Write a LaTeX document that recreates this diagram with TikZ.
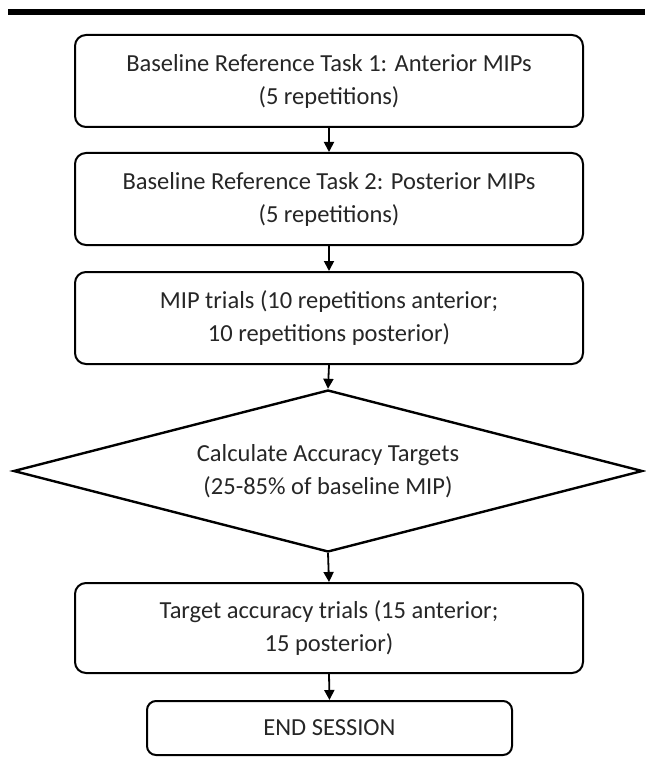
\documentclass[tikz,border=0pt]{standalone}
\usepackage{fontspec}
\setmainfont{Carlito}
\usetikzlibrary{shapes.geometric,arrows.meta}
\begin{document}
\begin{tikzpicture}[x=1pt,y=-1pt,
  every node/.style={font=\fontsize{24.5}{33}\selectfont, text=black!85, align=center},
  stepbox/.style={draw=black, line width=2pt, rounded corners=11pt, minimum width=508pt, inner sep=0pt},
  decision/.style={draw=black, line width=2.4pt, diamond, aspect=3.9, minimum width=629pt, minimum height=162pt, inner sep=0pt},
  flow/.style={draw=black, line width=1.8pt, -{Triangle[length=10pt,width=10pt]}}]
\useasboundingbox (0,0) rectangle (645,767);
\fill[black] (8,9) rectangle (645,15);
\node[stepbox, minimum height=92pt] (b1) at (329,81) {Baseline Reference Task 1: Anterior MIPs\\(5 repetitions)};
\node[stepbox, minimum height=92pt] (b2) at (329,199) {Baseline Reference Task 2: Posterior MIPs\\(5 repetitions)};
\node[stepbox, minimum height=92pt] (b3) at (329,318) {MIP trials (10 repetitions anterior;\\10 repetitions posterior)};
\node[decision] (d) at (328,471) {Calculate Accuracy Targets\\(25-85\% of baseline MIP)};
\node[stepbox, minimum height=90pt] (b4) at (329,628) {Target accuracy trials (15 anterior;\\15 posterior)};
\node[stepbox, minimum width=365pt, minimum height=54pt, rounded corners=9pt] (e) at (329.5,728) {END SESSION};
\draw[flow] (b1.south) -- (b2.north);
\draw[flow] (b2.south) -- (b3.north);
\draw[flow] (b3.south) -- (d.north);
\draw[flow] (d.south) -- (b4.north);
\draw[flow] (b4.south) -- (e.north);
\end{tikzpicture}
\end{document}
